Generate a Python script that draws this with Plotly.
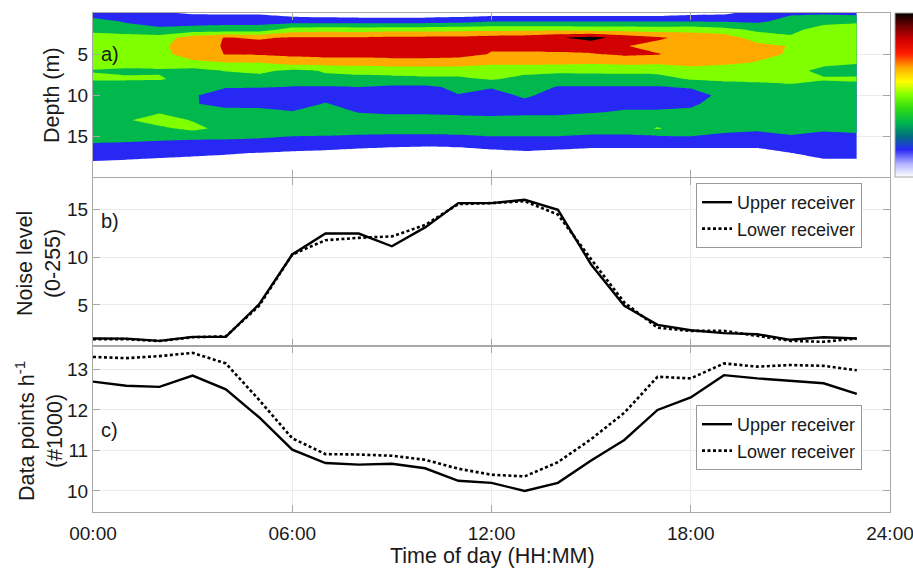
import plotly.graph_objects as go

# ---------------- data ----------------
hours = list(range(24))
depths = list(range(20))  # m

# panel a: backscatter level (band units) per hour, listed from 0 m to 19 m depth
backscatter_by_hour = [
    [1.5, 2.33, 2.67, 3.5, 3.5, 3.5, 3.5, 2.94, 3.2, 2.2, 2.5, 2.5, 2.5, 2.6, 2.5, 2.5, 1.875, 1.9, 0.95, 0.5],
    [1.5, 1.9, 2.4, 3.5, 3.5, 3.5, 3.5, 2.8, 3.15, 2.3, 2.5, 2.5, 2.5, 2.9, 2.5, 2.4, 1.8, 1.8, 0.8, 0.5],
    [1.1, 1.8, 2.1, 3.46, 3.8, 3.8, 3.4, 2.9, 3.1, 2.4, 2.4, 2.5, 2.9, 3.4, 2.8, 2.3, 1.7, 1.25, 0.83, 0.5],
    [0.9, 1.6, 2.35, 4.5, 4.5, 4.3, 3.87, 2.63, 2.6, 2.4, 2.1, 2.1, 2.5, 2.95, 3.25, 2.3, 1.5, 1.1, 0.85, 0.5],
    [0.85, 1.7, 2.37, 5.05, 5.1, 5.05, 4.0, 3.05, 2.55, 2.05, 1.55, 1.6, 2.4, 2.5, 2.7, 2.3, 1.45, 1.05, 0.8, 0.5],
    [0.85, 1.7, 2.37, 4.9, 5.3, 5.1, 4.02, 3.2, 2.7, 2.03, 1.5, 1.6, 2.35, 2.5, 2.5, 2.15, 1.5, 0.98, 0.6, 0.5],
    [0.59, 1.52, 3.44, 5.1, 5.5, 5.2, 4.49, 2.8, 2.4, 1.96, 1.5, 1.6, 2.04, 2.5, 2.4, 1.98, 1.5, 0.85, 0.5, 0.5],
    [0.5, 1.45, 3.575, 5.1, 5.5, 5.3, 4.55, 3.06, 2.86, 1.9, 1.6, 2.05, 2.5, 2.5, 2.35, 1.96, 1.4, 0.785, 0.5, 0.5],
    [0.35, 1.5, 3.5, 5.1, 5.6, 5.3, 4.55, 3.175, 2.825, 1.99, 1.5, 1.6, 1.95, 2.5, 2.3, 1.905, 1.3, 0.633, 0.5, 0.5],
    [0.35, 1.5, 3.6, 5.2, 5.6, 5.4, 4.57, 3.41, 2.73, 1.82, 1.5, 1.5, 1.7, 2.7, 2.3, 1.87, 1.2, 0.53, 0.5, 0.5],
    [0.35, 1.5, 3.6, 5.2, 5.6, 5.4, 4.57, 3.41, 2.82, 1.795, 1.5, 1.5, 1.7, 2.7, 2.3, 1.87, 1.15, 0.4, 0.4, 0.4],
    [0.4, 1.6, 3.7, 5.2, 5.6, 5.3, 4.55, 3.43, 2.816, 2.2, 1.96, 1.5, 1.7, 2.45, 2.3, 1.905, 1.2, 0.53, 0.5, 0.5],
    [0.45, 1.95, 3.7, 5.4, 5.1, 4.95, 4.3, 3.27, 3.1, 2.1, 1.5, 1.5, 1.8, 2.2, 2.5, 1.98, 1.35, 0.736, 0.5, 0.5],
    [0.45, 1.95, 3.7, 5.5, 5.1, 4.95, 4.3, 3.27, 2.73, 2.5, 2.2, 1.63, 1.7, 2.45, 2.5, 1.98, 1.4, 0.88, 0.5, 0.5],
    [0.45, 1.95, 3.7, 5.9, 5.2, 4.93, 4.3, 3.15, 2.65, 1.93, 1.5, 1.5, 1.7, 2.45, 2.5, 1.98, 1.35, 0.736, 0.5, 0.5],
    [0.45, 1.95, 3.6, 6.3, 5.5, 4.93, 4.2, 3.2, 2.6, 1.93, 1.5, 1.5, 1.9, 2.6, 2.4, 1.87, 1.3, 0.49, 0.5, 0.5],
    [0.45, 1.95, 3.6, 5.6, 5.05, 5.15, 4.3, 3.3, 2.5, 1.94, 1.5, 1.7, 2.11, 2.5, 2.4, 1.87, 1.3, 0.49, 0.5, 0.5],
    [0.45, 1.95, 3.5, 5.15, 4.7, 5.05, 4.2, 3.3, 2.6, 1.93, 1.5, 1.7, 2.11, 2.5, 3.08, 1.9, 1.3, 0.49, 0.5, 0.5],
    [0.7, 1.95, 3.6, 4.7, 4.6, 4.6, 4.3, 3.69, 3.1, 2.1, 1.5, 1.8, 2.2, 2.5, 2.5, 1.98, 1.3, 0.49, 0.5, 0.5],
    [0.8, 1.9, 3.3, 4.6, 4.6, 4.5, 4.2, 3.51, 3.3, 2.3, 2.3, 2.5, 2.5, 2.5, 2.3, 1.76, 1.3, 0.49, 0.5, 0.5],
    [1.4, 1.8, 2.8, 3.5, 4.3, 4.3, 3.95, 3.6, 3.2, 2.7, 2.5, 2.5, 2.5, 2.5, 2.1, 1.81, 1.3, 0.49, 0.5, 0.5],
    [1.85, 2.35, 2.7, 3.15, 3.95, 3.9, 3.7, 3.5, 3.3, 2.8, 2.5, 2.5, 2.5, 2.5, 2.4, 1.9, 1.5, 0.98, 0.5, 0.5],
    [1.85, 2.65, 3.43, 3.7, 3.7, 3.6, 3.4, 2.6, 3.15, 2.3, 2.5, 2.5, 2.5, 2.5, 2.3, 1.5, 1.5, 1.3, 0.87, 0.5],
    [1.7, 2.8, 3.6, 3.7, 3.7, 3.6, 3.2, 2.2, 3.34, 2.3, 2.5, 2.5, 2.5, 2.5, 2.4, 1.69, 1.5, 1.3, 0.87, 0.5],
]

# panel b: noise level (0-255)
noise_upper = [1.47, 1.45, 1.22, 1.64, 1.64, 5.06, 10.3, 12.5, 12.5, 11.16, 13.15, 15.7,
               15.7, 16.05, 15.0, 9.25, 4.9, 2.9, 2.34, 2.03, 1.92, 1.33, 1.6, 1.47]
noise_lower = [1.4, 1.4, 1.2, 1.6, 1.7, 4.9, 10.3, 11.8, 12.05, 12.2, 13.4, 15.6,
               15.7, 15.9, 14.5, 9.8, 5.25, 2.6, 2.27, 2.27, 1.75, 1.22, 1.12, 1.47]

# panel c: data points per hour (#1000)
points_upper = [12.7, 12.6, 12.57, 12.85, 12.51, 11.82, 11.02, 10.69, 10.65, 10.67, 10.56, 10.25,
                10.2, 10.0, 10.2, 10.75, 11.26, 12.0, 12.31, 12.86, 12.78, 12.72, 12.66, 12.4]
points_lower = [13.31, 13.28, 13.33, 13.41, 13.15, 12.25, 11.3, 10.91, 10.9, 10.87, 10.77, 10.55,
                10.4, 10.36, 10.71, 11.28, 11.93, 12.82, 12.78, 13.15, 13.07, 13.11, 13.09, 12.98]

time_ticks = [0, 6, 12, 18, 24]
time_labels = ["00:00", "06:00", "12:00", "18:00", "24:00"]

# ---------------- figure ----------------
W, H = 913, 569
ML, MR, MT, MB = 93, 23, 13, 57
PW, PH = W - ML - MR, H - MT - MB


def px_x(p):
    return (p - ML) / PW


def px_y(p):
    return (H - MB - p) / PH


# continuous colormap (white -> blue -> green -> yellow -> red -> black)
colormap = [
    [0.0, "#ffffff"],
    [0.08, "#b4b4ff"],
    [1 / 6, "#2828f5"],
    [0.25, "#00707e"],
    [2 / 6, "#00b84c"],
    [0.42, "#30dc10"],
    [3 / 6, "#80ff00"],
    [0.58, "#ffff00"],
    [4 / 6, "#ffaa00"],
    [0.75, "#ff1e00"],
    [5 / 6, "#d20000"],
    [0.92, "#700000"],
    [1.0, "#000000"],
]

z = [list(row) for row in zip(*backscatter_by_hour)]

fig = go.Figure()

fig.add_trace(go.Contour(
    x=hours, y=depths, z=z, xaxis="x", yaxis="y",
    colorscale=colormap, autocontour=False,
    contours=dict(start=1, end=6, size=1, coloring="fill", showlines=False),
    line=dict(width=0, smoothing=0),
    showscale=False, hoverinfo="skip",
))

# continuous colour bar (labels fall outside the page, as in the original)
fig.add_trace(go.Scatter(
    x=[-10], y=[10], xaxis="x", yaxis="y", mode="markers", showlegend=False,
    hoverinfo="skip",
    marker=dict(size=1, opacity=0, color=[0], cmin=0, cmax=1, colorscale=colormap,
                showscale=True,
                colorbar=dict(x=px_x(895), xanchor="left", xpad=0, ypad=0,
                              y=1, yanchor="top", len=164, lenmode="pixels",
                              thickness=24, thicknessmode="pixels",
                              outlinewidth=1, outlinecolor="#a8a8a8",
                              ticks="", showticklabels=False)),
))

line_solid = dict(color="black", width=2.4)
line_dot = dict(color="black", width=2.6, dash="3px,2.5px")

fig.add_trace(go.Scatter(x=hours, y=noise_upper, xaxis="x2", yaxis="y2", mode="lines",
                         name="Upper receiver", line=line_solid, legend="legend"))
fig.add_trace(go.Scatter(x=hours, y=noise_lower, xaxis="x2", yaxis="y2", mode="lines",
                         name="Lower receiver", line=line_dot, legend="legend"))
fig.add_trace(go.Scatter(x=hours, y=points_upper, xaxis="x3", yaxis="y3", mode="lines",
                         name="Upper receiver", line=line_solid, legend="legend2"))
fig.add_trace(go.Scatter(x=hours, y=points_lower, xaxis="x3", yaxis="y3", mode="lines",
                         name="Lower receiver", line=line_dot, legend="legend2"))

FONT = "Liberation Sans, Arial, Helvetica, sans-serif"
TXT = "#1a1a1a"
FRAME = "#a8a8a8"
GRID = "#ebebeb"

common = dict(showline=True, linecolor=FRAME, linewidth=1, mirror="ticks",
              ticks="inside", ticklen=7, tickcolor=FRAME, tickwidth=1,
              showgrid=True, gridcolor=GRID, gridwidth=1, zeroline=False,
              tickfont=dict(size=19, color=TXT, family=FONT))

dom_a = [px_y(177), 1.0]
dom_b = [px_y(346), px_y(178)]
dom_c = [0.0, px_y(346)]

xcommon = dict(common, range=[0, 24], tickvals=time_ticks, ticktext=time_labels,
               domain=[0, 1], ticklabeloverflow="allow")

fig.update_layout(
    width=W, height=H,
    margin=dict(l=ML, r=MR, t=MT, b=MB, autoexpand=False),
    paper_bgcolor="white", plot_bgcolor="white",
    font=dict(family=FONT, color=TXT),
    xaxis=dict(xcommon, anchor="y", showticklabels=False),
    yaxis=dict(common, domain=dom_a, anchor="x", range=[19.9, 0], tickvals=[5, 10, 15]),
    xaxis2=dict(xcommon, anchor="y2", showticklabels=False),
    yaxis2=dict(common, domain=dom_b, anchor="x2", range=[0.68, 18.34], tickvals=[5, 10, 15]),
    xaxis3=dict(xcommon, anchor="y3", ticklabelstandoff=4),
    yaxis3=dict(common, domain=dom_c, anchor="x3", range=[9.48, 13.58], tickvals=[10, 11, 12, 13]),
    legend=dict(x=px_x(862), xanchor="right", y=px_y(183), yanchor="top",
                bgcolor="white", bordercolor="#9a9a9a", borderwidth=1,
                font=dict(size=18, color=TXT, family=FONT), itemwidth=30,
                tracegroupgap=0),
    legend2=dict(x=px_x(862), xanchor="right", y=px_y(405), yanchor="top",
                 bgcolor="white", bordercolor="#9a9a9a", borderwidth=1,
                 font=dict(size=18, color=TXT, family=FONT), itemwidth=30,
                 tracegroupgap=0),
    showlegend=True,
)

ann_font = dict(size=21.5, color=TXT, family=FONT)
lab_font = dict(size=20, color=TXT, family=FONT)
annotations = [
    dict(text="Depth (m)", x=px_x(52), y=px_y(95)),
    dict(text="Noise level<br>(0-255)", x=px_x(39), y=px_y(264)),
    dict(text="Data points h<sup>-1</sup><br>(#1000)", x=px_x(39), y=px_y(431)),
]
for a in annotations:
    fig.add_annotation(xref="paper", yref="paper", textangle=-90, showarrow=False,
                       xanchor="center", yanchor="middle", font=ann_font, **a)

fig.add_annotation(text="Time of day (HH:MM)", xref="paper", yref="paper",
                   x=px_x(492), y=px_y(556), showarrow=False,
                   xanchor="center", yanchor="middle", font=ann_font)

for label, ypix in [("a)", 54), ("b)", 221), ("c)", 430)]:
    fig.add_annotation(text=label, xref="paper", yref="paper", x=px_x(99), y=px_y(ypix),
                       showarrow=False, xanchor="left", yanchor="middle", font=lab_font)

fig.write_html("out.html", config={"displayModeBar": False})

# remove the browser's default page margin so the figure sits at the window's corner
with open("out.html", "r", encoding="utf-8") as f:
    html = f.read()
html = html.replace("<body>", '<body style="margin:0;padding:0;overflow:hidden">', 1)
with open("out.html", "w", encoding="utf-8") as f:
    f.write(html)
